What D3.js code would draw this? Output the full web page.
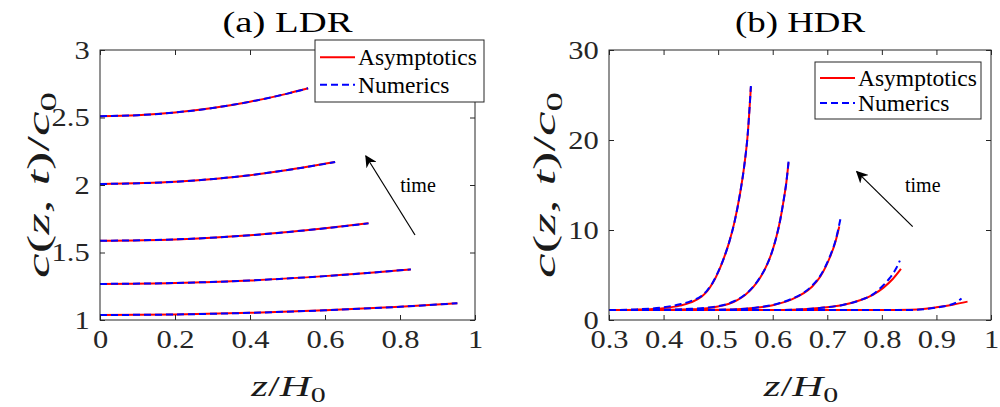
<!DOCTYPE html>
<html>
<head>
<meta charset="utf-8">
<script src="https://cdn.jsdelivr.net/npm/d3@7"></script>
<style>
  body { margin: 0; background: #fff; }
</style>
</head>
<body>
<svg id="chart" width="1000" height="407"></svg>
<script>
// LDR: asymptotics and numerics (they overlap), [z/H0, c/c0]
const ldrAsym = [
  [[0, 1.037], [0.2, 1.041], [0.4, 1.053], [0.6, 1.072], [0.8, 1.098], [0.953, 1.124]],
  [[0, 1.267], [0.2, 1.274], [0.4, 1.293], [0.6, 1.325], [0.8, 1.368], [0.829, 1.375]],
  [[0, 1.587], [0.2, 1.597], [0.4, 1.628], [0.6, 1.679], [0.716, 1.716]],
  [[0, 2.007], [0.2, 2.024], [0.4, 2.073], [0.5, 2.111], [0.627, 2.17]],
  [[0, 2.51], [0.1, 2.517], [0.2, 2.537], [0.3, 2.57], [0.4, 2.617], [0.5, 2.677], [0.555, 2.716]],
];
const ldrNum = [
  [[0, 1.037], [0.2, 1.041], [0.4, 1.053], [0.6, 1.072], [0.8, 1.098], [0.953, 1.124]],
  [[0, 1.267], [0.2, 1.274], [0.4, 1.293], [0.6, 1.325], [0.8, 1.368], [0.829, 1.375]],
  [[0, 1.587], [0.2, 1.597], [0.4, 1.628], [0.6, 1.679], [0.716, 1.716]],
  [[0, 2.007], [0.2, 2.024], [0.4, 2.073], [0.5, 2.111], [0.627, 2.17]],
  [[0, 2.51], [0.1, 2.517], [0.2, 2.537], [0.3, 2.57], [0.4, 2.617], [0.5, 2.677], [0.555, 2.716]],
];

// HDR
const hdrAsym = [
  [[0.3, 1.1], [0.8, 1.1], [0.852, 1.13], [0.88, 1.25], [0.9, 1.41], [0.93, 1.7], [0.957, 2.04]],
  [[0.3, 1.1], [0.6, 1.1], [0.638, 1.15], [0.67, 1.25], [0.699, 1.41], [0.73, 1.7], [0.76, 2.2], [0.785, 2.85], [0.803, 3.6], [0.82, 4.55], [0.835, 5.67]],
  [[0.3, 1.1], [0.5, 1.13], [0.55, 1.25], [0.577, 1.41], [0.6, 1.65], [0.613, 1.85], [0.635, 2.3], [0.656, 2.96], [0.672, 3.7], [0.687, 4.8], [0.697, 5.9], [0.705, 7.0], [0.714, 8.5], [0.722, 10.4]],
  [[0.3, 1.1], [0.4, 1.12], [0.45, 1.19], [0.48, 1.32], [0.5, 1.5], [0.52, 1.8], [0.535, 2.2], [0.55, 2.8], [0.565, 3.7], [0.578, 4.8], [0.59, 6.2], [0.6, 7.8], [0.607, 9.3], [0.614, 11.2], [0.62, 13.3], [0.625, 15.3], [0.629, 17.5]],
  [[0.3, 1.1], [0.35, 1.15], [0.4, 1.32], [0.43, 1.6], [0.45, 1.95], [0.47, 2.6], [0.48, 3.2], [0.49, 4.1], [0.5, 5.3], [0.51, 6.8], [0.52, 8.6], [0.53, 10.9], [0.54, 14.0], [0.548, 17.2], [0.554, 20.5], [0.56, 25.9]],
];
const hdrNum = [
  [[0.3, 1.1], [0.85, 1.1], [0.88, 1.22], [0.9, 1.38], [0.92, 1.6], [0.935, 1.9], [0.946, 2.4]],
  [[0.3, 1.1], [0.6, 1.1], [0.638, 1.15], [0.67, 1.25], [0.699, 1.41], [0.73, 1.7], [0.76, 2.2], [0.785, 2.9], [0.8, 3.7], [0.815, 4.7], [0.825, 5.6], [0.833, 6.6]],
  [[0.3, 1.1], [0.5, 1.14], [0.55, 1.26], [0.577, 1.43], [0.6, 1.67], [0.613, 1.88], [0.635, 2.35], [0.656, 3.0], [0.672, 3.8], [0.687, 4.9], [0.697, 6.0], [0.705, 7.1], [0.715, 8.8], [0.724, 11.2]],
  [[0.3, 1.1], [0.4, 1.14], [0.45, 1.25], [0.48, 1.38], [0.5, 1.55], [0.52, 1.85], [0.535, 2.25], [0.55, 2.85], [0.565, 3.75], [0.578, 4.85], [0.59, 6.2], [0.6, 7.8], [0.607, 9.3], [0.614, 11.2], [0.62, 13.3], [0.625, 15.3], [0.629, 17.6]],
  [[0.3, 1.1], [0.35, 1.18], [0.4, 1.42], [0.43, 1.75], [0.45, 2.1], [0.47, 2.7], [0.48, 3.3], [0.49, 4.15], [0.5, 5.35], [0.51, 6.8], [0.52, 8.6], [0.53, 10.9], [0.54, 14.0], [0.548, 17.2], [0.554, 20.5], [0.56, 26.0]],
];

const ldrXTicks = [0, 0.2, 0.4, 0.6, 0.8, 1];
const ldrYTicks = [1, 1.5, 2, 2.5, 3];
const hdrXTicks = [0.3, 0.4, 0.5, 0.6, 0.7, 0.8, 0.9, 1];
const hdrYTicks = [0, 10, 20, 30];

const legendLabels = ["Asymptotics", "Numerics"];

// "time" arrows: [tail, head] in data units, plus label position
const ldrArrow = { from: [0.84, 1.63], to: [0.709, 2.215], label: [0.848, 2.0] };
const hdrArrow = { from: [0.8565, 10.37], to: [0.754, 16.48], label: [0.875, 15.0] };

const serif = "'Liberation Serif', 'Times New Roman', serif";
const svg = d3.select("#chart");
const axisColor = "#262626";
const stretch = 1.22; // the reference's text is a bit wider than Times

svg.append("defs").append("marker")
  .attr("id", "arrowhead")
  .attr("viewBox", "0 0 10 10")
  .attr("refX", 9).attr("refY", 5)
  .attr("markerWidth", 12).attr("markerHeight", 12)
  .attr("markerUnits", "userSpaceOnUse")
  .attr("orient", "auto")
  .append("path")
  .attr("d", "M0,0 L10,5 L0,10 L3,5 Z")
  .attr("fill", "#000");

// scale a text (drawn at 0,0) so its width along the text direction is targetW
function fitText(t, cx, cy, targetW, rot, thick) {
  const w = t.node().getBBox().width;
  const sx = targetW / w;
  t.attr("transform", `translate(${cx},${cy}) rotate(${rot || 0}) scale(${sx},${thick || 1})`);
}

function mathLabel(g, parts, size) {
  const t = g.append("text")
    .attr("x", 0).attr("y", 0)
    .attr("text-anchor", "middle")
    .style("font-family", serif).style("font-size", `${size}px`)
    .attr("fill", "#1a1a1a");
  parts.forEach((p) => {
    const ts = t.append("tspan").text(p.s);
    if (p.i) ts.style("font-style", "italic");
    if (p.sub) ts.style("font-size", `${size * 0.7}px`).attr("dy", size * 0.22);
  });
  return t;
}

function drawPanel(opts) {
  const { left, right, top, bottom } = opts.box;
  const x = d3.scaleLinear().domain(opts.xDomain).range([left, right]);
  const y = d3.scaleLinear().domain(opts.yDomain).range([bottom, top]);
  const g = svg.append("g");

  const line = d3.line()
    .x((d) => x(d[0]))
    .y((d) => y(d[1]))
    .curve(d3.curveMonotoneX);

  // curves: red solid below, blue dashed on top
  opts.asym.forEach((s) => {
    g.append("path").datum(s).attr("d", line)
      .attr("fill", "none").attr("stroke", "#ff0000").attr("stroke-width", 2);
  });
  opts.num.forEach((s) => {
    g.append("path").datum(s).attr("d", line)
      .attr("fill", "none").attr("stroke", "#0000ff").attr("stroke-width", 2)
      .attr("stroke-dasharray", "7 4");
  });

  // box with inward ticks on all sides
  const tickLen = 5;
  g.append("g").attr("class", "lab").attr("transform", `translate(0,${bottom})`)
    .call(d3.axisBottom(x).tickValues(opts.xTicks).tickSize(-tickLen).tickFormat(d3.format("~g")).tickPadding(10))
    .call((a) => a.select(".domain").remove());
  g.append("g").attr("transform", `translate(0,${top})`)
    .call(d3.axisTop(x).tickValues(opts.xTicks).tickSize(-tickLen).tickFormat(""))
    .call((a) => a.select(".domain").remove());
  g.append("g").attr("class", "lab").attr("transform", `translate(${left},0)`)
    .call(d3.axisLeft(y).tickValues(opts.yTicks).tickSize(-tickLen).tickFormat(d3.format("~g")).tickPadding(8.5))
    .call((a) => a.select(".domain").remove());
  g.append("g").attr("transform", `translate(${right},0)`)
    .call(d3.axisRight(y).tickValues(opts.yTicks).tickSize(-tickLen).tickFormat(""))
    .call((a) => a.select(".domain").remove());

  g.selectAll(".tick line").attr("stroke", axisColor);
  g.selectAll("g.lab").attr("font-family", null).attr("font-size", null);
  g.selectAll("g.lab .tick text")
    .style("font-family", serif).style("font-size", "25px")
    .attr("fill", axisColor)
    .attr("transform", `scale(${stretch},1)`);

  g.append("rect")
    .attr("x", left).attr("y", top)
    .attr("width", right - left).attr("height", bottom - top)
    .attr("fill", "none").attr("stroke", axisColor).attr("stroke-width", 1);

  // title
  const title = g.append("text")
    .attr("x", 0).attr("y", 0)
    .attr("text-anchor", "middle")
    .style("font-family", serif).style("font-size", "29px")
    .attr("fill", "#000")
    .text(opts.title);
  fitText(title, (left + right) / 2, 32, 131);

  // x label z/H0
  const xl = mathLabel(g, [{ s: "z", i: true }, { s: "/" }, { s: "H", i: true }, { s: "0", sub: true }], 29);
  fitText(xl, (left + right) / 2 + 1, 396, 76);

  // y label c(z,t)/c0
  const yl = mathLabel(g, [
    { s: "c", i: true }, { s: "(" }, { s: "z", i: true }, { s: ", " },
    { s: "t", i: true }, { s: ")/" }, { s: "c", i: true }, { s: "0", sub: true },
  ], 29);
  fitText(yl, opts.yLabelX, (top + bottom) / 2, 186, -90, 1.12);

  // time arrow
  const a = opts.arrow;
  g.append("line")
    .attr("x1", x(a.from[0])).attr("y1", y(a.from[1]))
    .attr("x2", x(a.to[0])).attr("y2", y(a.to[1]))
    .attr("stroke", "#000").attr("stroke-width", 1.2)
    .attr("marker-end", "url(#arrowhead)");
  g.append("text")
    .attr("x", x(a.label[0])).attr("y", y(a.label[1]))
    .attr("text-anchor", "middle").attr("dominant-baseline", "central")
    .style("font-family", serif).style("font-size", "20px")
    .attr("fill", "#000")
    .text("time");

  // legend
  const L = opts.legend;
  const lg = g.append("g");
  lg.append("rect")
    .attr("x", L.x).attr("y", L.y).attr("width", L.w).attr("height", L.h)
    .attr("fill", "#fff").attr("stroke", axisColor).attr("stroke-width", 1);
  legendLabels.forEach((label, i) => {
    const ly = L.y + L.h * (0.28 + 0.44 * i);
    lg.append("line")
      .attr("x1", L.x + 5).attr("x2", L.x + 40)
      .attr("y1", ly).attr("y2", ly)
      .attr("stroke", i === 0 ? "#ff0000" : "#0000ff").attr("stroke-width", 2)
      .attr("stroke-dasharray", i === 0 ? null : "7 4");
    lg.append("text")
      .attr("x", L.x + 43).attr("y", ly)
      .attr("dominant-baseline", "central")
      .style("font-family", serif).style("font-size", "23.5px")
      .attr("fill", "#000")
      .text(label);
  });
}

drawPanel({
  box: { left: 100, right: 475, top: 50, bottom: 320 },
  xDomain: [0, 1], yDomain: [1, 3],
  xTicks: ldrXTicks, yTicks: ldrYTicks,
  asym: ldrAsym, num: ldrNum,
  title: "(a) LDR", yLabelX: 49,
  arrow: ldrArrow,
  legend: { x: 315, y: 40, w: 169, h: 62 },
});

drawPanel({
  box: { left: 609, right: 991, top: 50, bottom: 320 },
  xDomain: [0.3, 1], yDomain: [0, 30],
  xTicks: hdrXTicks, yTicks: hdrYTicks,
  asym: hdrAsym, num: hdrNum,
  title: "(b) HDR", yLabelX: 555,
  arrow: hdrArrow,
  legend: { x: 815, y: 62, w: 166, h: 57 },
});
</script>
</body>
</html>
